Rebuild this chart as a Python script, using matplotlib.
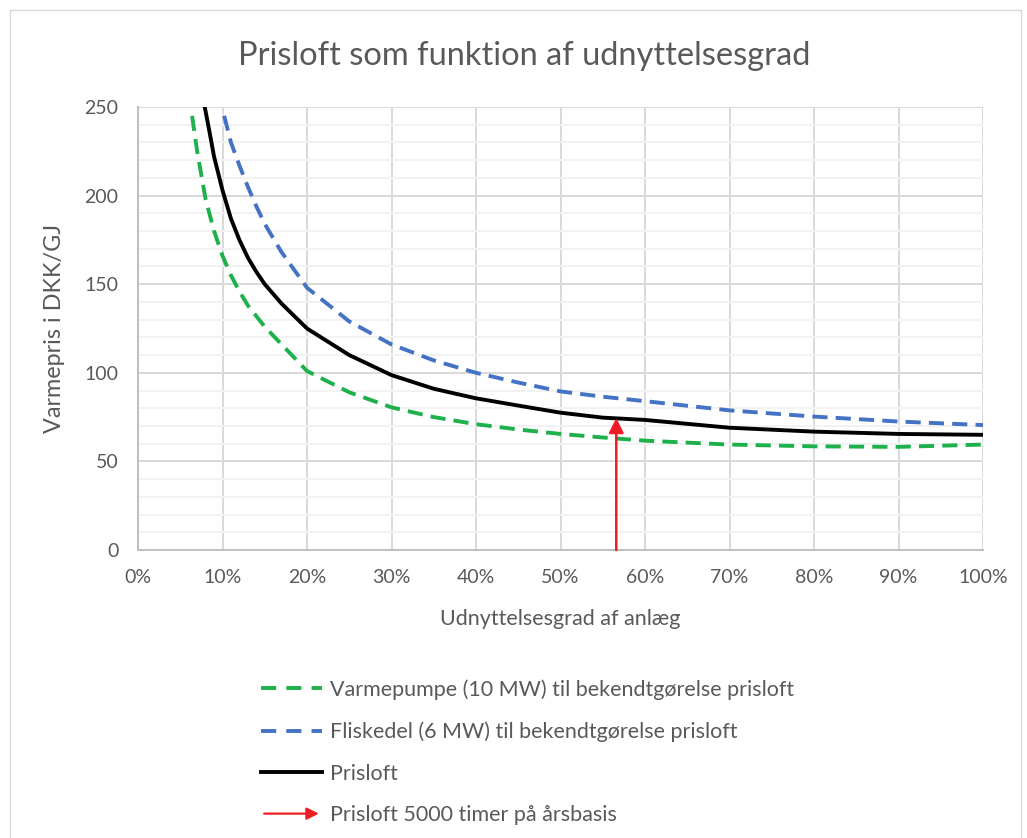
import numpy as np
import matplotlib
matplotlib.use("Agg")
import matplotlib.pyplot as plt
from matplotlib.lines import Line2D
from matplotlib.patches import FancyArrowPatch, Rectangle
from matplotlib.legend_handler import HandlerBase
from matplotlib.ticker import MultipleLocator, PercentFormatter

plt.rcParams["font.family"] = ["Lato", "DejaVu Sans"]

# Udnyttelsesgrad (fraction) and price curves
vp_x = [0.064, 0.07, 0.08, 0.09, 0.10, 0.11, 0.12, 0.13, 0.15, 0.17, 0.20,
        0.25, 0.30, 0.35, 0.40, 0.45, 0.50, 0.55, 0.60, 0.70, 0.80, 0.90, 1.00]
vp_y = [245, 225, 198, 180, 166, 155, 146, 138, 126, 116, 101,
        89, 80.5, 75, 71, 68, 65.5, 63.5, 61.7, 59.5, 58.5, 58.2, 59.5]

fk_x = [0.102, 0.11, 0.12, 0.13, 0.14, 0.15, 0.17, 0.20, 0.25, 0.30, 0.35,
        0.40, 0.45, 0.50, 0.55, 0.60, 0.70, 0.80, 0.90, 1.00]
fk_y = [245, 230, 217, 205, 194, 184, 168, 148, 129, 116, 107,
        100, 94.5, 89.5, 86.5, 84, 78.8, 75.3, 72.5, 70.5]

pl_x = [0.079, 0.085, 0.09, 0.10, 0.11, 0.12, 0.13, 0.14, 0.15, 0.17, 0.20,
        0.25, 0.30, 0.35, 0.40, 0.45, 0.50, 0.55, 0.60, 0.70, 0.80, 0.90, 1.00]
pl_y = [250, 235, 222, 203, 187, 175, 165, 157, 150, 139, 125,
        110, 98.7, 91, 85.6, 81.5, 77.5, 74.7, 73.4, 69, 66.8, 65.5, 65]

arrow_x = 0.566
arrow_top = 74.5

labels = [
    "Varmepumpe (10 MW) til bekendtgørelse prisloft",
    "Fliskedel (6 MW) til bekendtgørelse prisloft",
    "Prisloft",
    "Prisloft 5000 timer på årsbasis",
]

GREEN = "#1DB04B"
BLUE = "#4472C4"
RED = "#EE1C25"
TXT = "#595959"


class ArrowHandler(HandlerBase):
    def create_artists(self, legend, orig_handle, xdescent, ydescent,
                       width, height, fontsize, trans):
        y = height / 2 - ydescent
        arr = FancyArrowPatch((-xdescent, y), (width - xdescent, y),
                              arrowstyle="-|>", mutation_scale=18,
                              color=RED, lw=1.6, transform=trans)
        return [arr]


fig = plt.figure(figsize=(10.27, 8.38), dpi=100)
fig.patches.append(Rectangle((10 / 1027, -0.01), 1011 / 1027, 828 / 838 + 0.01,
                             transform=fig.transFigure, fill=False,
                             edgecolor="#D9D9D9", lw=1))

ax = fig.add_axes([138 / 1027, 1 - 550 / 838, 845 / 1027, 443 / 838])

lw = 2.8
dash = (3.9, 2.1)
ax.plot(vp_x, vp_y, color=GREEN, lw=lw, dashes=dash, zorder=3)
ax.plot(fk_x, fk_y, color=BLUE, lw=lw, dashes=dash, zorder=3)
ax.plot(pl_x, pl_y, color="black", lw=lw, zorder=4)
ax.annotate("", xy=(arrow_x, arrow_top), xytext=(arrow_x, 0),
            arrowprops=dict(arrowstyle="-|>", color=RED, lw=1.8,
                            mutation_scale=22, shrinkA=0, shrinkB=0),
            zorder=5)

ax.set_xlim(0, 1)
ax.set_ylim(0, 250)
ax.xaxis.set_major_locator(MultipleLocator(0.1))
ax.xaxis.set_major_formatter(PercentFormatter(1.0, decimals=0))
ax.yaxis.set_major_locator(MultipleLocator(50))
ax.yaxis.set_minor_locator(MultipleLocator(10))
ax.grid(which="major", color="#D9D9D9", lw=1.4)
ax.grid(which="minor", axis="y", color="#F2F2F2", lw=1.4)
ax.set_axisbelow(True)
for side in ["top", "right"]:
    ax.spines[side].set_visible(False)
for side in ["left", "bottom"]:
    ax.spines[side].set_color("#BFBFBF")
    ax.spines[side].set_linewidth(1.4)
ax.tick_params(which="both", length=0, labelsize=14, colors=TXT, pad=14)

ax.set_xlabel("Udnyttelsesgrad af anlæg", fontsize=15.5, color=TXT, labelpad=16)
ax.set_ylabel("Varmepris i DKK/GJ", fontsize=16.8, color=TXT, labelpad=14)
fig.text(524 / 1027, 1 - 56 / 838, "Prisloft som funktion af udnyttelsesgrad",
         ha="center", va="center", fontsize=23.5, color=TXT)

handles = [
    Line2D([], [], color=GREEN, lw=lw, dashes=(3.9, 2.6)),
    Line2D([], [], color=BLUE, lw=lw, dashes=(3.9, 2.6)),
    Line2D([], [], color="black", lw=lw),
    Line2D([], [], color=RED),
]
fig.legend(handles, labels, loc="upper left",
           bbox_to_anchor=(242 / 1027, 1 - 660 / 838),
           frameon=False, fontsize=15.5, labelcolor=TXT,
           handlelength=2.8, handletextpad=0.4, labelspacing=1.0,
           handler_map={handles[3]: ArrowHandler()})

fig.savefig("out.png", dpi=100)
